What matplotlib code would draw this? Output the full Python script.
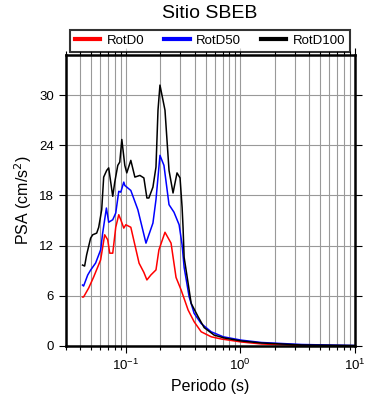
import matplotlib
matplotlib.use('Agg')
import matplotlib.pyplot as plt
import numpy as np
from matplotlib.ticker import LogLocator, MultipleLocator

plt.rcParams['font.family'] = ['Liberation Sans', 'DejaVu Sans']

# Data: periode (s) dan PSA (cm/s^2)
t_rotd0 = [0.0419, 0.0428, 0.0474, 0.0524, 0.0603, 0.0654, 0.0695, 0.0724, 0.0769,
           0.0817, 0.0868, 0.0904, 0.096, 0.100, 0.1106, 0.1306, 0.1438, 0.1528,
           0.1657, 0.1834, 0.1946, 0.2198, 0.2483, 0.2745, 0.304, 0.350, 0.395,
           0.455, 0.557, 0.681, 1.02, 1.53, 3.43, 10.0]
psa_rotd0 = [5.86, 5.86, 6.93, 8.25, 10.3, 13.3, 12.7, 11.1, 11.1,
             14.2, 15.7, 15.1, 14.1, 14.5, 14.2, 9.9, 8.8, 7.9,
             8.5, 9.1, 11.5, 13.6, 12.3, 8.2, 6.7, 4.3, 2.9,
             1.7, 1.1, 0.84, 0.48, 0.24, 0.06, 0.02]

t_rotd50 = [0.0419, 0.0428, 0.0465, 0.0493, 0.0545, 0.0603, 0.0628, 0.0677, 0.0709,
            0.0769, 0.0817, 0.0868, 0.0904, 0.096, 0.098, 0.1106, 0.1274, 0.150,
            0.1725, 0.1834, 0.1987, 0.2153, 0.2384, 0.2634, 0.292, 0.310, 0.323,
            0.357, 0.395, 0.454, 0.556, 0.71, 1.02, 1.53, 3.43, 10.0]
psa_rotd50 = [7.29, 7.17, 8.49, 9.08, 9.92, 11.5, 13.5, 16.5, 14.8,
              15.1, 15.9, 18.5, 18.4, 19.6, 19.2, 18.6, 16.3, 12.3,
              14.7, 17.5, 22.8, 21.6, 16.9, 16.0, 14.5, 12.1, 9.4,
              5.9, 3.9, 2.7, 1.7, 1.1, 0.7, 0.42, 0.18, 0.06]

t_rotd100 = [0.0419, 0.0437, 0.0455, 0.0493, 0.0514, 0.0557, 0.058, 0.0616, 0.0641,
             0.0681, 0.0709, 0.0769, 0.0801, 0.0851, 0.0886, 0.0923, 0.098, 0.102,
             0.1106, 0.120, 0.1327, 0.1438, 0.1528, 0.159, 0.1725, 0.1834, 0.191,
             0.1987, 0.2198, 0.2384, 0.2584, 0.280, 0.2975, 0.310, 0.316, 0.323,
             0.350, 0.372, 0.428, 0.483, 0.591, 0.724, 1.02, 1.53, 3.43, 10.0]
psa_rotd100 = [9.68, 9.56, 10.9, 12.9, 13.3, 13.5, 14.2, 16.3, 20.2,
               21.0, 21.3, 17.9, 19.6, 21.6, 22.0, 24.7, 21.6, 20.7,
               22.2, 20.2, 20.4, 20.1, 17.7, 17.7, 19.0, 21.4, 28.2,
               31.2, 28.2, 21.0, 18.3, 20.7, 20.1, 16.6, 14.2, 10.6,
               7.5, 5.1, 3.5, 2.2, 1.3, 0.96, 0.6, 0.36, 0.12, 0.06]

fig = plt.figure(figsize=(3.9, 4.0), dpi=100)
ax = fig.add_axes([0.169, 0.135, 0.741, 0.7275])

ax.plot(t_rotd0, psa_rotd0, color='red', lw=1.1, label='RotD0')
ax.plot(t_rotd50, psa_rotd50, color='blue', lw=1.1, label='RotD50')
ax.plot(t_rotd100, psa_rotd100, color='black', lw=1.1, label='RotD100')

ax.set_xscale('log')
ax.set_xlim(0.03, 10)
ax.set_ylim(0, 34.8)
ax.yaxis.set_major_locator(MultipleLocator(6))
ax.xaxis.set_major_locator(LogLocator(base=10))
ax.xaxis.set_minor_locator(LogLocator(base=10, subs=np.arange(2, 10)))

# Grid abu-abu: vertikal tiap minor tick, horizontal tiap 6
ax.grid(True, which='both', axis='x', color='#999999', lw=0.8)
ax.grid(True, which='major', axis='y', color='#999999', lw=0.8)
ax.set_axisbelow(True)

for s in ax.spines.values():
    s.set_linewidth(1.8)
ax.tick_params(which='both', direction='out', top=True, right=True, width=0.8, labelsize=9.5)
ax.tick_params(which='major', length=5)
ax.tick_params(which='minor', length=3)

ax.set_xlabel('Periodo (s)', fontsize=11.5)
ax.set_ylabel('PSA (cm/s$^2$)', fontsize=11.5)
fig.text(0.538, 0.965, 'Sitio SBEB', ha='center', va='center', fontsize=14)

leg = fig.legend(loc='center', bbox_to_anchor=(0.539, 0.8975), ncol=3, fontsize=9.5,
                 frameon=True, fancybox=False, edgecolor='black', handlelength=1.9,
                 columnspacing=1.5, handletextpad=0.5, borderpad=0.4)
leg.get_frame().set_linewidth(1.5)
for line in leg.get_lines():
    line.set_linewidth(3)

fig.savefig('out.png', dpi=100)
